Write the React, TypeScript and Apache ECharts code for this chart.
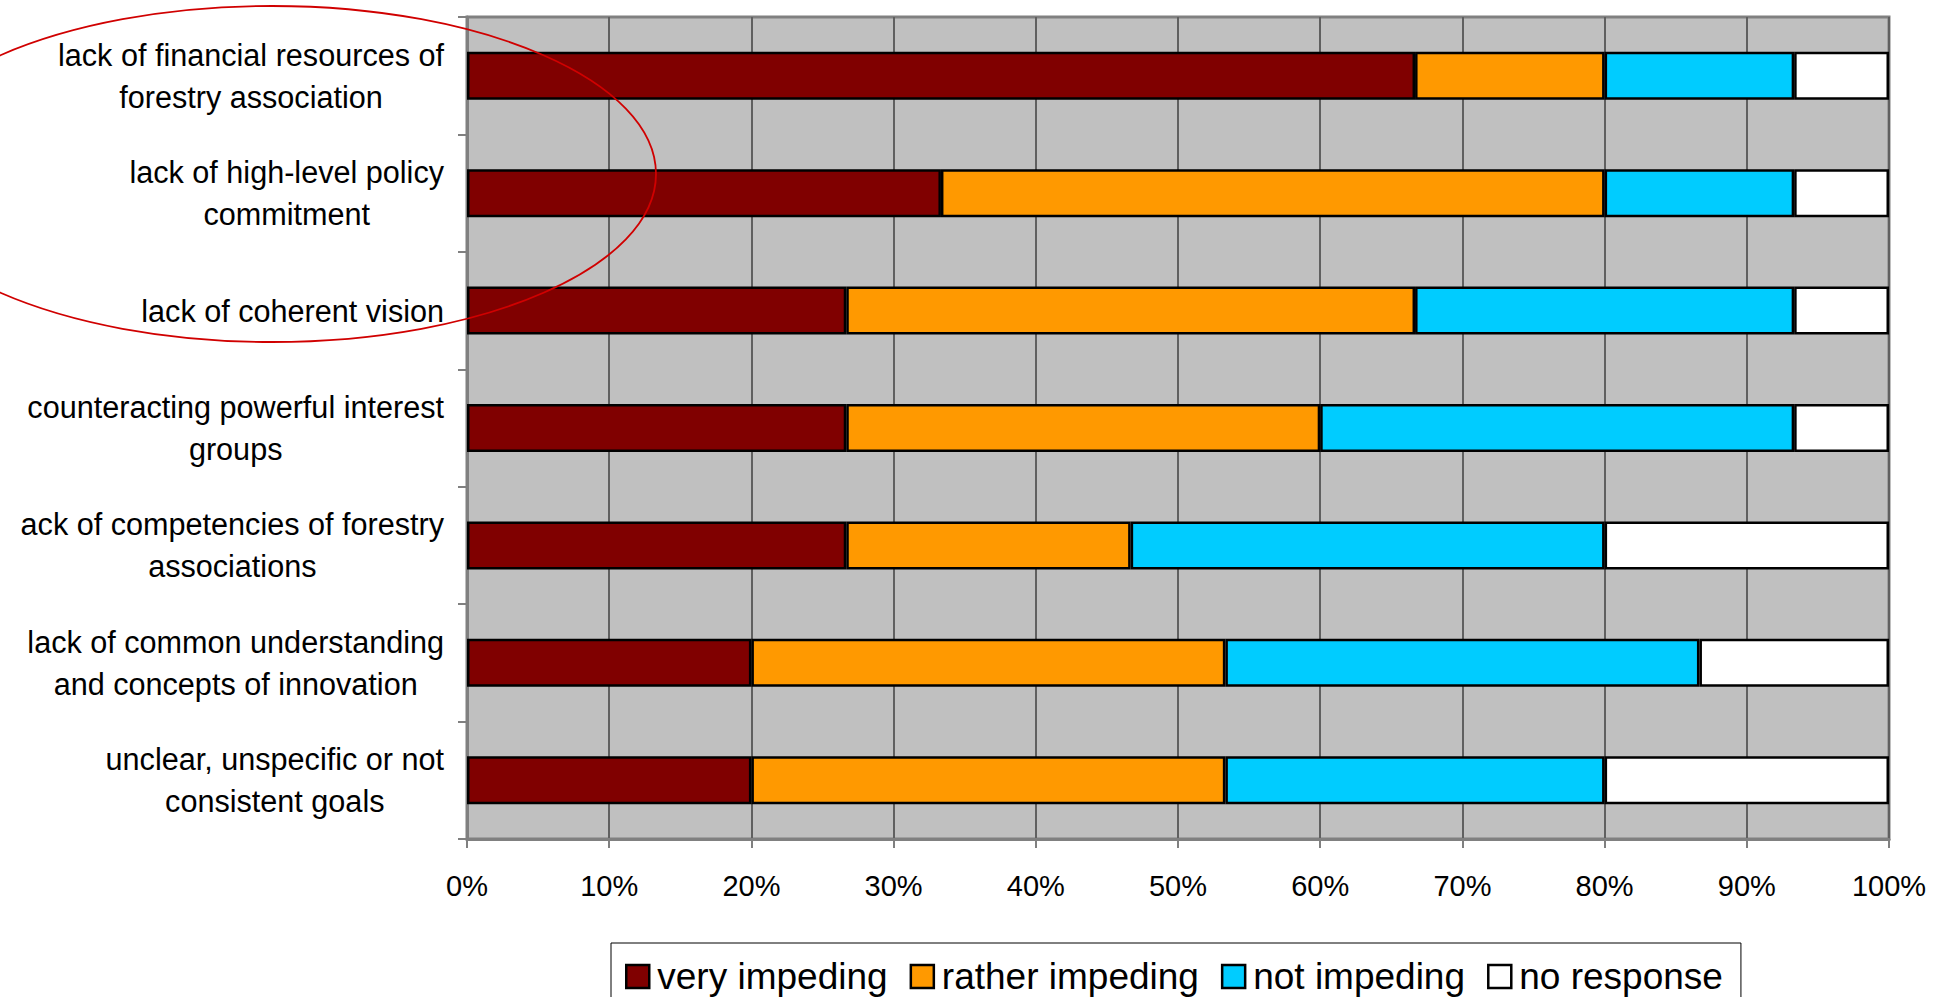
import React, { useEffect, useRef } from "react";
import * as echarts from "echarts";

const categories = [
  "lack of financial resources of\nforestry association",
  "lack of high-level policy\ncommitment",
  "lack of coherent vision",
  "counteracting powerful interest\ngroups",
  "ack of competencies of forestry\nassociations",
  "lack of common understanding\nand concepts of innovation",
  "unclear, unspecific or not\nconsistent goals",
];

const seriesNames = ["very impeding", "rather impeding", "not impeding", "no response"];
const seriesColors = ["#800000", "#FF9900", "#00CCFF", "#FFFFFF"];

const veryImpeding = [66.67, 33.33, 26.67, 26.67, 26.67, 20, 20];
const ratherImpeding = [13.33, 46.67, 40, 33.33, 20, 33.33, 33.33];
const notImpeding = [13.33, 13.33, 26.66, 33.33, 33.33, 33.34, 26.67];
const noResponse = [6.67, 6.67, 6.67, 6.67, 20, 13.33, 20];

const seriesValues = [veryImpeding, ratherImpeding, notImpeding, noResponse];

const FONT = "'Liberation Sans', Arial, Helvetica, sans-serif";

export default function App() {
  const ref = useRef<HTMLDivElement>(null);

  useEffect(() => {
    if (!ref.current) return;
    const chart = echarts.init(ref.current, null, { renderer: "svg" });
    chart.setOption({
      animation: false,
      backgroundColor: "#ffffff",
      grid: {
        left: 467,
        top: 17,
        right: 59,
        bottom: 158,
        show: true,
        backgroundColor: "#C0C0C0",
        borderColor: "#808080",
        borderWidth: 3,
      },
      legend: {
        data: seriesNames,
        left: 611,
        top: 943,
        orient: "horizontal",
        padding: [15, 18, 15, 14],
        borderColor: "#000000",
        borderWidth: 1,
        backgroundColor: "#ffffff",
        itemWidth: 23,
        itemHeight: 23,
        itemGap: 22,
        icon: "rect",
        itemStyle: { borderColor: "#000000", borderWidth: 2.5 },
        textStyle: { fontFamily: FONT, fontSize: 37, color: "#000000", padding: [0, 0, 0, 3] },
      },
      xAxis: {
        type: "value",
        min: 0,
        max: 100,
        interval: 10,
        axisLine: { show: true, lineStyle: { color: "#808080", width: 3 } },
        axisTick: { show: true, length: 9, lineStyle: { color: "#808080", width: 2 } },
        axisLabel: {
          formatter: "{value}%",
          fontFamily: FONT,
          fontSize: 29,
          color: "#000000",
          margin: 32,
        },
        splitLine: { show: true, lineStyle: { color: "#606060", width: 2 } },
      },
      yAxis: {
        type: "category",
        data: categories,
        inverse: true,
        axisLine: { show: true, lineStyle: { color: "#808080", width: 3 } },
        axisTick: { show: true, length: 9, lineStyle: { color: "#808080", width: 2 } },
        splitLine: { show: false },
        axisLabel: {
          margin: 23,
          formatter: (v: string) =>
            v
              .split("\n")
              .map((l) => `{c|${l}}`)
              .join("\n"),
          rich: {
            c: {
              align: "center",
              fontFamily: FONT,
              fontSize: 30.6,
              lineHeight: 42,
              color: "#000000",
            },
          },
        },
      },
      series: seriesNames.map((name, i) => ({
        name,
        type: "bar",
        stack: "total",
        barWidth: 48,
        data: seriesValues[i],
        itemStyle: {
          color: seriesColors[i],
          borderColor: "#000000",
          borderWidth: 2.5,
        },
      })),
      graphic: [
        {
          type: "ellipse",
          z: 100,
          shape: { cx: 272, cy: 174, rx: 384, ry: 168 },
          style: { fill: "none", stroke: "#D00000", lineWidth: 1.8 },
          silent: true,
        },
      ],
    });
    return () => chart.dispose();
  }, []);

  return (
    <div
      ref={ref}
      style={{ position: "fixed", left: 0, top: 0, width: 1948, height: 997 }}
    />
  );
}
